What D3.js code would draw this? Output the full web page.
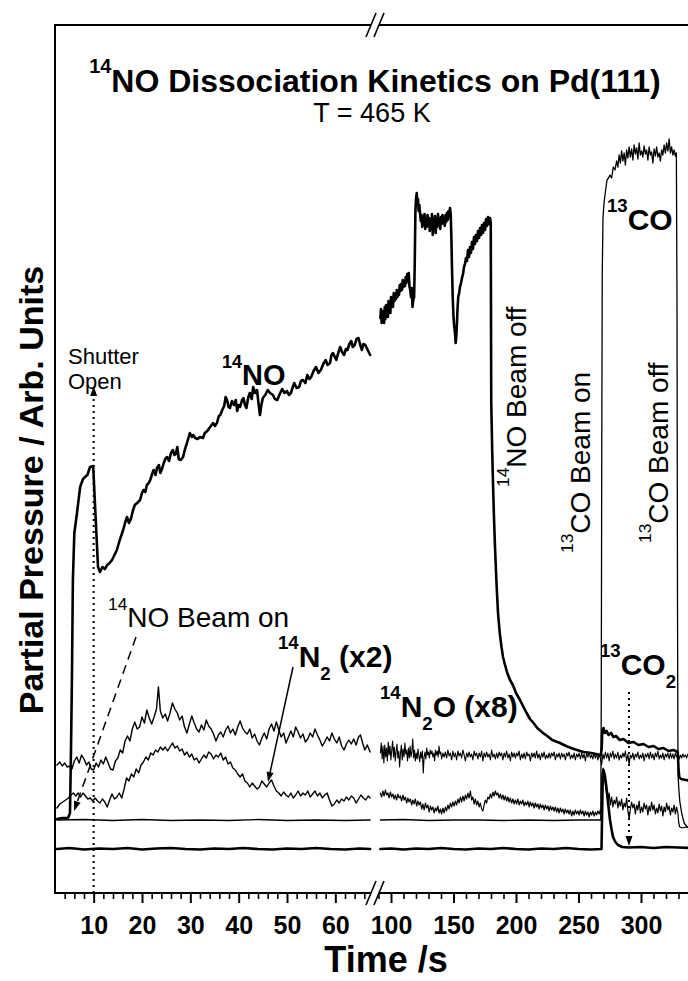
<!DOCTYPE html>
<html><head><meta charset="utf-8">
<script src="https://cdn.jsdelivr.net/npm/d3@7"></script>
<style>body{margin:0;background:#fff}svg{display:block}text{font-family:"Liberation Sans",Arial,sans-serif;fill:#000}</style>
</head><body><svg id="c" width="688" height="981"></svg>
<script>
// ---------- DATA (time in s, partial pressure in arb. units) ----------
const ticksLeftMajor = [10,20,30,40,50,60];
const ticksRightMajor = [100,150,200,250,300];
const tickLabelsLeft = ["10","20","30","40","50","60"];
const tickLabelsRight = ["100","150","200","250","300"];

const no14Left = [[2.4,8.4],[3.5,8.5],[4.7,8.5],[5.1,9.0],[5.3,15.0],[5.5,22.3],[5.7,32.3],[6.0,37.0],[6.55,39.0],[7.2,41.6],[7.8,42.4],[8.2,42.6],[8.7,42.8],[9.25,43.6],[9.9,43.7],[10.3,39.6],[10.9,33.6],[11.3,33.1],[11.8,33.6],[12.3,33.4],[12.8,33.8],[13.3,34.0],[13.8,34.3],[14.3,34.8],[14.8,35.3],[15.4,36.3],[16.1,37.3],[16.6,38.2],[16.9,38.6],[17.3,38.0],[17.7,38.4],[18.1,39.2],[18.5,39.8],[19.0,40.0],[19.6,40.3],[20.0,41.0],[20.3,41.3],[20.7,41.1],[21.0,41.8],[21.4,42.0],[21.7,42.3],[22.1,42.9],[22.4,43.3],[22.8,42.8],[23.1,43.5],[23.5,43.8],[23.8,43.0],[24.2,43.5],[24.5,44.0],[24.9,44.5],[25.2,44.6],[25.6,44.2],[26.0,45.0],[26.4,45.3],[26.7,44.8],[27.0,44.9],[27.3,45.6],[27.6,44.4],[28.0,44.3],[28.5,44.6],[28.9,45.4],[29.3,46.0],[29.6,46.5],[29.9,47.0],[30.3,46.6],[30.6,46.8],[31.0,46.5],[31.5,46.4],[32.0,46.6],[32.6,46.5],[33.0,47.0],[33.5,47.2],[34.1,47.6],[34.7,48.0],[35.1,47.7],[35.5,48.0],[35.9,48.7],[36.2,48.8],[36.6,49.3],[37.0,49.7],[37.3,50.6],[37.6,50.3],[37.9,49.6],[38.2,49.5],[38.6,50.2],[39.0,49.8],[39.4,50.3],[39.7,49.2],[40.0,49.8],[40.3,49.6],[40.7,50.3],[41.0,50.5],[41.3,49.8],[41.6,49.5],[42.0,50.6],[42.3,51.0],[42.7,50.4],[43.0,51.6],[43.4,51.0],[43.8,51.3],[44.1,50.0],[44.4,48.8],[44.7,49.8],[45.0,50.5],[45.5,50.8],[46.0,51.3],[46.5,51.0],[47.1,50.8],[47.5,50.4],[48.0,50.3],[48.5,50.9],[49.0,51.4],[49.5,51.0],[50.0,51.2],[50.4,50.8],[50.8,51.0],[51.2,51.6],[51.5,52.0],[52.0,51.5],[52.5,51.6],[52.9,52.2],[53.3,52.3],[53.8,52.0],[54.2,52.8],[54.6,52.4],[55.0,52.6],[55.5,53.2],[56.0,53.6],[56.5,53.0],[57.0,53.3],[57.5,53.9],[58.0,54.3],[58.4,53.8],[58.9,54.0],[59.2,54.8],[59.5,55.0],[59.9,54.6],[60.2,54.3],[60.6,55.0],[61.0,55.6],[61.4,55.1],[61.8,54.8],[62.2,55.4],[62.5,55.3],[62.9,55.9],[63.3,56.2],[63.6,55.6],[64.0,55.8],[64.4,56.4],[64.8,56.5],[65.1,55.9],[65.5,55.3],[65.8,55.9],[66.2,55.8],[66.6,55.4],[67.2,54.8]];

const no14Right = [[91.5,58.5],[92.0,59.4],[92.5,58.0],[93.0,59.2],[93.5,58.2],[94.0,59.0],[94.5,58.0],[95.0,59.6],[95.5,58.4],[96.0,59.8],[96.5,58.8],[97.0,59.4],[97.5,58.6],[98.0,60.2],[98.5,59.2],[99.0,59.8],[99.5,59.0],[100.0,60.6],[100.5,59.8],[101.0,60.3],[101.6,59.6],[102.2,61.0],[102.8,60.2],[103.4,60.8],[104.0,60.4],[104.6,61.3],[105.2,60.6],[105.8,61.2],[106.4,60.8],[107.0,61.8],[107.6,61.2],[108.2,61.9],[108.8,61.3],[109.4,62.3],[110.0,61.6],[110.6,62.0],[111.2,61.7],[111.8,62.6],[112.4,62.0],[113.0,62.9],[113.6,62.3],[114.2,63.0],[114.8,61.6],[115.4,61.3],[116.0,60.6],[116.6,61.5],[117.2,59.6],[117.8,60.3],[118.5,60.6],[119.0,64.0],[119.5,69.0],[120.0,70.4],[120.6,71.0],[121.1,70.0],[121.6,70.4],[122.1,69.2],[122.7,69.8],[123.2,69.0],[123.8,68.2],[124.4,68.8],[125.0,67.6],[125.6,68.6],[126.2,67.8],[126.8,68.9],[127.4,67.4],[128.0,68.3],[128.6,67.6],[129.2,68.8],[129.8,67.9],[130.4,68.5],[131.0,67.2],[131.6,68.4],[132.2,67.5],[132.8,68.9],[133.4,66.8],[134.0,68.1],[134.6,67.4],[135.2,68.7],[135.8,67.0],[136.4,68.2],[137.0,67.6],[137.6,68.9],[138.2,67.8],[138.8,68.4],[139.4,67.4],[140.0,68.6],[140.6,67.9],[141.2,68.8],[141.8,68.0],[142.4,68.5],[143.0,67.7],[143.6,68.8],[144.2,68.1],[144.8,69.0],[145.4,68.3],[146.0,69.2],[146.6,68.6],[147.2,69.5],[147.8,68.8],[148.3,66.5],[148.8,63.5],[149.4,60.5],[150.0,58.6],[150.6,57.6],[151.2,57.0],[151.7,56.0],[152.2,56.6],[152.7,57.8],[153.2,59.4],[153.8,60.6],[154.5,61.0],[155.2,61.6],[156.0,62.0],[156.8,62.5],[157.6,62.9],[158.4,63.6],[159.2,63.9],[160.0,64.5],[160.8,64.2],[161.6,65.3],[162.4,64.6],[163.2,65.6],[164.0,65.0],[164.8,66.1],[165.6,65.4],[166.4,66.6],[167.2,65.9],[168.0,66.8],[168.8,66.2],[169.6,67.2],[170.4,66.5],[171.2,67.5],[172.0,66.8],[172.8,67.8],[173.6,67.0],[174.4,68.0],[175.2,67.3],[176.0,68.4],[176.8,67.7],[177.6,68.6],[178.4,67.9],[179.2,68.5],[179.8,68.0],[180.2,50.0],[181.0,45.0],[181.6,42.0],[182.4,38.5],[183.2,35.6],[184.4,32.0],[185.6,29.0],[187.0,27.0],[188.4,25.6],[189.6,24.6],[191.0,23.9],[193.0,23.0],[195.2,22.3],[197.5,21.8],[200.0,21.0],[203.2,20.3],[206.0,19.6],[208.5,19.0],[211.2,18.4],[214.0,18.0],[217.0,17.5],[221.6,17.0],[225.0,16.7],[229.0,16.3],[235.2,16.0],[240.0,15.7],[244.0,15.5],[248.8,15.3],[254.0,15.1],[260.0,15.0],[264.0,14.9],[267.8,14.8],[268.6,15.5],[269.0,17.2],[270.0,17.5],[271.0,17.0],[272.5,17.2],[274.0,16.8],[276.0,17.0],[278.0,16.6],[280.0,16.7],[283.0,16.3],[286.0,16.4],[290.0,16.0],[294.0,16.1],[298.0,15.8],[302.0,15.9],[306.0,15.6],[310.0,15.7],[314.0,15.4],[318.0,15.5],[322.0,15.2],[326.0,15.3],[329.4,15.1],[330.0,13.5],[330.6,12.6],[332.0,12.4],[336.0,12.3],[340.0,12.2],[350.0,12.2]];

const co13Left = [[2.4,8.3],[8,8.35],[14,8.25],[20,8.35],[26,8.25],[32,8.3],[38,8.25],[44,8.35],[50,8.25],[56,8.3],[62,8.25],[67.2,8.3]];
const co13Right = [[91.5,8.3],[110,8.35],[130,8.25],[150,8.3],[170,8.3],[190,8.25],[210,8.3],[230,8.25],[250,8.3],[267.8,8.3],[268.2,20],[268.6,45],[269.0,63],[269.6,68.5],[270.4,70.0],[271.6,71.2],[272.8,72.3],[274.0,72.5],[275.2,72.8],[276.5,72.5],[277.8,73.6],[279.2,73.3],[280.5,74.2],[281.5,73.6],[282.5,74.8],[283.5,74.0],[284.5,75.2],[285.5,74.2],[286.5,75.0],[287.5,73.8],[288.5,75.3],[289.5,74.5],[290.5,75.6],[291.5,74.6],[292.5,75.4],[293.5,74.3],[294.5,75.8],[295.5,74.9],[296.5,75.5],[297.5,74.4],[298.5,76.0],[299.5,74.8],[300.5,75.2],[301.5,74.6],[302.5,75.7],[303.5,74.9],[304.5,75.3],[305.5,74.3],[306.5,75.6],[307.5,74.8],[308.5,75.1],[309.5,74.0],[310.5,75.4],[311.5,74.7],[312.5,75.6],[313.5,74.6],[314.5,75.0],[315.5,74.2],[316.5,75.3],[317.5,74.8],[318.5,75.8],[319.5,75.0],[320.5,76.0],[321.5,75.2],[322.5,76.4],[323.5,75.0],[324.5,75.6],[325.5,74.8],[326.5,75.3],[327.5,74.7],[328.3,75.0],[328.8,60],[329.2,30],[329.6,13.0],[330.2,11.5],[331.0,10.2],[332.5,9.0],[334.5,8.0],[337.0,7.6],[341.0,7.5],[350.0,7.5]];

const co2Left = [[2.4,5.4],[5,5.5],[8,5.35],[11,5.45],[14,5.4],[17,5.5],[20,5.35],[23,5.45],[26,5.5],[29,5.4],[32,5.35],[35,5.45],[38,5.4],[41,5.5],[44,5.4],[47,5.35],[50,5.45],[53,5.4],[56,5.5],[59,5.4],[62,5.35],[65,5.45],[67.2,5.4]];
const co2Right = [[91.5,5.4],[100,5.45],[110,5.35],[120,5.45],[130,5.4],[140,5.5],[150,5.4],[160,5.35],[170,5.45],[180,5.4],[190,5.5],[200,5.4],[210,5.35],[220,5.45],[230,5.4],[240,5.5],[250,5.4],[260,5.35],[268.4,5.4],[268.9,9.0],[269.4,12.8],[270.0,13.3],[271.0,12.8],[272.0,11.9],[273.2,10.6],[274.2,9.4],[275.2,8.3],[276.4,7.4],[277.6,6.6],[279.5,6.1],[281.6,5.8],[285,5.6],[290,5.55],[300,5.6],[310,5.5],[320,5.6],[330,5.55],[340,5.5],[350,5.5]];

const n2oLeft = [[2.4,13.8],[3.0,14.1],[3.5,13.7],[4.0,14.0],[4.5,13.6],[5.0,13.7],[5.5,13.4],[6.0,14.2],[6.5,14.6],[7.0,14.0],[7.5,14.8],[8.0,14.4],[8.5,13.8],[9.0,14.1],[9.5,13.4],[10.0,13.3],[10.5,14.0],[11.0,13.6],[11.5,14.3],[12.0,13.9],[12.5,14.6],[13.0,14.0],[13.5,13.4],[14.0,13.3],[14.5,14.2],[15.0,14.5],[15.5,15.3],[16.0,15.0],[16.5,16.2],[17.0,16.7],[17.5,16.2],[18.0,17.4],[18.5,18.1],[19.0,17.4],[19.5,17.6],[20.0,18.6],[20.5,18.0],[21.0,19.3],[21.5,18.5],[22.0,17.9],[22.5,18.6],[23.0,19.4],[23.4,21.6],[23.8,19.2],[24.3,18.5],[24.8,18.9],[25.3,18.2],[25.8,19.0],[26.3,20.0],[26.8,19.4],[27.3,19.0],[27.8,18.3],[28.3,18.7],[28.8,17.6],[29.3,17.0],[29.8,17.9],[30.3,18.7],[30.8,18.0],[31.3,17.4],[31.8,17.1],[32.3,17.8],[32.8,17.3],[33.3,18.3],[33.8,17.7],[34.3,17.4],[34.8,16.9],[35.3,16.2],[35.8,16.8],[36.3,17.1],[36.8,16.6],[37.3,17.3],[37.8,17.7],[38.3,17.0],[38.8,17.4],[39.3,16.8],[39.8,17.6],[40.3,18.2],[40.8,17.5],[41.3,17.1],[41.8,16.9],[42.3,17.4],[42.8,16.5],[43.3,16.9],[43.8,16.2],[44.3,15.8],[44.8,16.5],[45.3,17.0],[45.8,16.4],[46.3,17.4],[46.8,17.9],[47.3,17.2],[47.8,18.1],[48.3,17.3],[48.8,16.6],[49.3,17.0],[49.8,16.0],[50.3,16.6],[50.8,17.2],[51.3,16.6],[51.8,17.6],[52.3,17.1],[52.8,16.5],[53.3,16.9],[53.8,16.1],[54.3,16.4],[54.8,17.0],[55.3,16.6],[55.8,17.4],[56.3,16.8],[56.8,16.3],[57.3,15.7],[57.8,16.1],[58.3,16.6],[58.8,16.2],[59.3,17.0],[59.8,16.4],[60.3,16.0],[60.8,16.6],[61.3,15.7],[61.8,15.3],[62.3,15.9],[62.8,16.3],[63.3,15.9],[63.8,16.4],[64.3,15.8],[64.8,16.6],[65.2,16.8],[65.7,15.9],[66.1,15.3],[66.6,15.8],[67.2,15.1]];

const n2oRight = [[91.5,15.0],[92.2,16.0],[92.9,14.4],[93.6,15.7],[94.3,14.0],[95.0,15.8],[95.7,14.6],[96.4,15.5],[97.1,14.2],[97.8,16.1],[98.5,14.8],[99.2,15.7],[99.9,14.3],[100.6,15.3],[101.3,16.2],[102.0,14.6],[102.7,15.6],[103.4,14.2],[104.1,15.1],[104.8,15.9],[105.5,14.5],[106.2,15.2],[106.9,13.6],[107.6,15.0],[108.3,15.8],[109.0,14.3],[109.7,15.4],[110.4,14.6],[111.1,16.0],[111.8,14.9],[112.5,15.3],[113.2,14.2],[113.9,15.5],[114.6,14.5],[115.3,15.7],[116.0,14.6],[116.7,15.1],[117.4,16.4],[118.1,14.5],[118.8,15.3],[119.5,14.2],[120.2,15.0],[120.9,14.4],[121.6,15.4],[122.3,14.7],[123.0,14.1],[123.7,15.1],[124.4,14.5],[125.1,15.2],[125.8,13.0],[126.5,14.6],[127.2,15.1],[127.9,14.4],[128.6,15.5],[129.3,14.8],[130.0,15.1],[130.7,14.5],[131.4,15.3],[132.1,14.9],[132.8,15.2],[133.5,14.6],[134.2,15.0],[134.9,14.2],[135.6,15.3],[136.3,14.8],[137.0,15.2],[137.7,14.6],[138.4,15.7],[139.1,14.9],[139.8,15.1],[140.5,14.4],[141.5,15.0],[142.5,14.6],[143.5,15.1],[144.5,14.5],[145.5,15.3],[146.5,14.7],[147.5,15.0],[148.5,14.3],[149.5,15.2],[150.5,14.6],[151.5,15.0],[152.5,14.3],[153.5,15.2],[154.5,14.7],[155.5,15.0],[156.5,14.5],[157.5,15.3],[158.5,14.8],[159.5,14.2],[160.5,15.0],[161.5,14.6],[162.5,15.1],[163.5,14.6],[164.5,14.9],[165.5,14.3],[166.5,15.2],[167.5,14.7],[168.5,15.0],[169.5,14.4],[170.5,15.0],[171.5,14.6],[172.5,15.2],[173.5,14.2],[174.5,15.0],[175.5,14.6],[176.5,15.1],[177.5,14.6],[178.5,14.9],[179.5,14.3],[180.5,15.3],[181.5,14.6],[182.5,14.9],[183.5,14.4],[184.5,15.0],[185.5,14.5],[186.5,15.1],[187.5,14.7],[188.5,15.0],[189.5,14.3],[190.5,15.0],[191.5,14.6],[192.5,15.2],[193.5,14.5],[194.5,14.9],[195.5,14.2],[196.5,15.1],[197.5,14.6],[198.5,15.0],[199.5,14.5],[200.5,15.0],[201.5,14.7],[202.5,15.2],[203.5,14.3],[204.5,14.9],[205.5,14.5],[206.5,15.0],[207.5,14.4],[208.5,15.1],[209.5,14.7],[210.5,14.9],[211.5,14.2],[212.5,15.0],[213.5,14.6],[214.5,15.0],[215.5,14.5],[216.5,15.2],[217.5,14.5],[218.5,14.9],[219.5,14.3],[220.5,15.0],[221.5,14.6],[222.5,15.1],[223.5,14.4],[224.5,14.8],[225.5,14.5],[226.5,15.0],[227.5,14.5],[228.5,15.0],[229.5,14.7],[230.5,15.1],[231.5,14.3],[232.5,14.9],[233.5,14.6],[234.5,15.0],[235.5,14.4],[236.5,15.0],[237.5,14.6],[238.5,14.9],[239.5,14.3],[240.5,15.0],[241.5,14.7],[242.5,15.1],[243.5,14.4],[244.5,14.8],[245.5,14.5],[246.5,15.0],[247.5,14.3],[248.5,14.9],[249.5,14.6],[250.5,15.0],[251.5,14.4],[252.5,15.0],[253.5,14.5],[254.5,14.9],[255.5,14.2],[256.5,15.0],[257.5,14.6],[258.5,15.1],[259.5,14.5],[260.5,14.8],[261.5,14.4],[262.5,15.0],[263.5,14.5],[264.5,14.9],[265.5,14.3],[266.5,14.8],[267.5,14.5],[268.5,13.8],[269.5,14.9],[270.5,14.4],[271.5,15.1],[272.5,14.5],[273.5,15.0],[274.5,14.2],[275.5,15.0],[276.5,14.6],[277.5,15.2],[278.5,14.4],[279.5,14.9],[280.5,14.5],[281.5,15.1],[282.5,14.3],[283.5,14.8],[284.5,14.5],[285.5,15.0],[286.5,14.6],[287.5,15.2],[288.5,14.2],[289.5,14.9],[290.5,13.8],[291.5,14.8],[292.5,14.5],[293.5,15.0],[294.5,14.3],[295.5,14.9],[296.5,14.6],[297.5,15.1],[298.5,14.4],[299.5,14.8],[300.5,14.5],[301.5,15.0],[302.5,14.2],[303.5,14.9],[304.5,14.6],[305.5,15.0],[306.5,14.4],[307.5,15.1],[308.5,14.5],[309.5,14.9],[310.5,14.3],[311.5,15.0],[312.5,14.6],[313.5,15.2],[314.5,14.4],[315.5,14.8],[316.5,14.5],[317.5,15.0],[318.5,14.3],[319.5,14.9],[320.5,14.6],[321.5,15.0],[322.5,14.4],[323.5,15.0],[324.5,14.5],[325.5,14.9],[326.5,14.4],[327.5,15.0],[328.5,14.6],[329.5,14.9],[330.5,14.4],[331.5,14.8],[332.5,14.5],[333.5,14.9],[334.5,14.6],[335.5,14.8],[336.5,14.5],[337.5,14.9],[338.5,14.6],[340,14.8],[342,14.6],[345,14.8],[350,14.7]];

const n2Left = [[2.4,9.5],[3.0,9.9],[3.6,10.1],[4.2,10.3],[4.8,10.5],[5.3,10.8],[5.8,11.0],[6.3,10.7],[6.8,11.0],[7.3,10.6],[7.8,11.0],[8.3,10.7],[8.8,10.4],[9.3,10.5],[9.8,10.2],[10.3,10.5],[10.8,10.2],[11.3,10.0],[11.8,10.4],[12.3,10.1],[12.8,9.6],[13.3,10.3],[13.8,10.9],[14.3,10.4],[14.8,10.6],[15.3,11.0],[15.8,10.5],[16.3,11.4],[16.8,12.5],[17.3,12.2],[17.8,12.9],[18.3,12.6],[18.8,13.4],[19.3,13.0],[19.8,13.8],[20.3,14.1],[20.8,14.6],[21.3,14.3],[21.8,15.0],[22.3,14.8],[22.8,15.3],[23.3,15.1],[23.8,15.6],[24.3,15.3],[24.8,15.6],[25.3,15.2],[25.8,15.6],[26.3,16.0],[26.8,15.5],[27.3,15.7],[27.8,15.2],[28.3,15.4],[28.8,14.8],[29.3,15.1],[29.8,14.6],[30.3,14.9],[30.8,14.3],[31.3,14.5],[31.8,14.0],[32.3,14.4],[32.8,14.8],[33.3,14.5],[33.8,15.1],[34.3,14.9],[34.8,14.4],[35.3,14.8],[35.8,14.6],[36.3,15.0],[36.8,14.3],[37.3,14.6],[37.8,13.9],[38.3,14.1],[38.8,13.5],[39.3,13.3],[39.8,12.9],[40.3,12.6],[40.8,12.9],[41.3,12.2],[41.8,12.0],[42.3,11.6],[42.8,12.0],[43.3,11.7],[43.8,11.4],[44.3,11.6],[44.8,12.2],[45.3,11.9],[45.8,11.6],[46.3,12.0],[46.8,12.3],[47.3,11.7],[47.8,11.2],[48.3,11.0],[48.8,10.7],[49.3,11.1],[49.8,10.8],[50.3,10.6],[50.8,11.0],[51.3,10.5],[51.8,10.8],[52.3,11.2],[52.8,10.7],[53.3,11.0],[53.8,10.8],[54.3,11.2],[54.8,10.6],[55.3,10.9],[55.8,11.2],[56.3,10.7],[56.8,11.0],[57.3,10.5],[57.8,10.8],[58.3,11.0],[58.8,10.3],[59.3,9.7],[59.8,9.9],[60.3,10.3],[60.8,10.0],[61.3,10.4],[61.8,10.2],[62.3,10.6],[62.8,10.3],[63.3,10.7],[63.8,10.5],[64.3,10.0],[64.8,10.4],[65.3,10.8],[65.8,10.5],[66.3,10.3],[66.8,10.7],[67.2,10.5]];

const n2Right = [[91.5,11.0],[92.5,10.6],[93.5,11.2],[94.5,10.7],[95.5,11.3],[96.5,10.8],[97.5,11.0],[98.5,10.5],[99.5,11.1],[100.5,10.6],[101.5,10.9],[102.5,10.4],[103.5,10.8],[104.5,10.3],[105.5,10.9],[106.5,10.5],[107.5,10.7],[108.5,10.2],[109.5,10.8],[110.5,10.3],[111.5,10.6],[112.5,10.0],[113.5,10.5],[114.5,10.1],[115.5,10.4],[116.5,9.8],[117.5,10.3],[118.5,9.9],[119.5,10.4],[120.5,9.7],[121.5,10.2],[122.5,9.8],[123.5,10.1],[124.5,9.4],[125.5,9.9],[126.5,9.3],[127.5,10.0],[128.5,9.5],[129.5,9.8],[130.5,9.1],[131.5,9.7],[132.5,9.3],[133.5,9.6],[134.5,9.0],[135.5,9.5],[136.5,9.2],[137.5,9.7],[138.5,9.0],[139.5,9.4],[140.5,8.9],[141.5,9.5],[142.5,9.0],[143.5,9.6],[144.5,9.2],[145.5,9.8],[146.5,9.4],[147.5,10.0],[148.5,9.6],[149.5,10.1],[150.5,9.7],[151.5,10.2],[152.5,9.8],[153.5,10.4],[154.5,10.0],[155.5,10.6],[156.5,10.1],[157.5,10.7],[158.5,10.2],[159.5,10.8],[160.5,10.4],[161.5,11.0],[162.5,10.5],[163.5,11.2],[164.5,10.3],[165.5,10.6],[166.5,9.9],[167.5,10.4],[168.5,9.8],[169.5,10.2],[170.5,9.6],[171.5,10.0],[172.5,9.4],[173.5,9.2],[174.5,9.8],[175.5,10.3],[176.5,10.0],[177.5,10.6],[178.5,10.4],[179.5,10.9],[180.5,10.5],[181.5,11.1],[182.5,10.7],[183.5,11.2],[184.5,10.8],[185.5,11.0],[186.5,10.5],[187.5,10.9],[188.5,10.4],[189.5,10.8],[190.5,10.3],[191.5,10.7],[192.5,10.2],[193.5,10.6],[194.5,10.1],[195.5,10.5],[196.5,10.0],[197.5,10.4],[198.5,9.9],[199.5,10.3],[200.5,9.9],[201.5,10.4],[202.5,9.8],[203.5,10.2],[204.5,9.9],[205.5,10.3],[206.5,9.7],[207.5,10.1],[208.5,9.8],[209.5,10.2],[210.5,9.6],[211.5,10.1],[212.5,9.7],[213.5,10.0],[214.5,9.5],[215.5,10.0],[216.5,9.6],[217.5,9.9],[218.5,9.4],[219.5,9.9],[220.5,9.5],[221.5,9.8],[222.5,9.3],[223.5,9.8],[224.5,9.4],[225.5,9.7],[226.5,9.2],[227.5,9.7],[228.5,9.3],[229.5,9.6],[230.5,9.2],[231.5,9.6],[232.5,9.1],[233.5,9.5],[234.5,9.0],[235.5,9.5],[236.5,9.1],[237.5,9.4],[238.5,8.9],[239.5,9.4],[240.5,9.0],[241.5,9.3],[242.5,8.9],[243.5,9.3],[244.5,8.7],[245.5,9.2],[246.5,8.8],[247.5,9.3],[248.5,8.9],[249.5,9.2],[250.5,8.8],[251.5,9.3],[252.5,8.9],[253.5,9.2],[254.5,8.7],[255.5,9.2],[256.5,8.8],[257.5,9.1],[258.5,8.6],[259.5,9.1],[260.5,8.8],[261.5,9.2],[262.5,8.7],[263.5,9.1],[264.5,8.8],[265.5,9.2],[266.5,8.9],[267.5,9.3],[268.3,9.3],[268.9,12.5],[269.6,13.5],[270.3,13.2],[271.0,12.4],[271.8,11.5],[272.6,10.8],[273.5,10.4],[274.5,11.0],[275.5,9.8],[276.5,10.6],[277.5,9.6],[278.5,10.3],[279.5,9.9],[280.5,10.6],[281.5,9.5],[282.5,10.2],[283.5,9.7],[284.5,10.4],[285.5,9.3],[286.5,10.0],[287.5,9.6],[288.5,10.5],[289.5,9.2],[290.5,8.4],[291.5,9.4],[292.5,10.1],[293.5,9.5],[294.5,9.9],[295.5,8.9],[296.5,9.8],[297.5,9.3],[298.5,10.2],[299.5,9.0],[300.5,9.6],[301.5,9.1],[302.5,10.0],[303.5,9.4],[304.5,9.8],[305.5,8.8],[306.5,9.7],[307.5,9.2],[308.5,10.1],[309.5,9.3],[310.5,9.8],[311.5,8.9],[312.5,9.5],[313.5,9.0],[314.5,9.9],[315.5,9.2],[316.5,9.7],[317.5,8.7],[318.5,9.6],[319.5,9.1],[320.5,10.0],[321.5,9.3],[322.5,9.7],[323.5,8.8],[324.5,9.5],[325.5,9.1],[326.5,9.8],[327.5,8.9],[328.5,9.6],[329.5,9.0],[330.2,8.0],[331,7.6],[333,7.5],[336,7.6],[340,7.5],[345,7.6],[350,7.5]];

// ---------- LAYOUT ----------
const W = 688, H = 981;
const L = 55, T = 25, B = 893, R = 705;
const FONT = '"Liberation Sans", Arial, sans-serif';

const svg = d3.select('#c');
svg.append('rect').attr('width', W).attr('height', H).attr('fill', '#fff');

const xL = d3.scaleLinear().domain([2, 68]).range([L, 374]);
const xR = d3.scaleLinear().domain([88, 350]).range([376, 703.5]);
const y = d3.scaleLinear().domain([1.0, 87.8]).range([B, T]);
const BREAK_X = 375;

function drawLine(data, xs, width) {
  svg.append('path').datum(data)
    .attr('d', d3.line().x(d => xs(d[0])).y(d => y(d[1])))
    .attr('fill', 'none').attr('stroke', '#000')
    .attr('stroke-width', width).attr('stroke-linejoin', 'round').attr('stroke-linecap', 'round');
}

// thin traces
drawLine(co13Left, xL, 1.3); drawLine(co13Right, xR, 1.3);
drawLine(n2Left, xL, 1.4); drawLine(n2Right, xR, 1.2);
drawLine(n2oLeft, xL, 1.4); drawLine(n2oRight, xR, 1.1);
// thick traces
drawLine(co2Left, xL, 2.6); drawLine(co2Right, xR, 2.6);
drawLine(no14Left, xL, 2.6); drawLine(no14Right, xR, 2.6);

// ---------- AXES / FRAME ----------
const frame = svg.append('g').attr('stroke', '#000').attr('stroke-width', 2);
frame.append('line').attr('x1', L).attr('x2', L).attr('y1', T - 1).attr('y2', B + 1);
frame.append('line').attr('x1', L - 1).attr('x2', R).attr('y1', T).attr('y2', T);
frame.append('line').attr('x1', L - 1).attr('x2', R).attr('y1', B).attr('y2', B);

function axisSeg(xs, majors, labels, minors) {
  const gMaj = svg.append('g').attr('transform', `translate(0,${B})`)
    .call(d3.axisBottom(xs).tickValues(majors).tickSize(10).tickPadding(13)
      .tickFormat((d, i) => labels[i]));
  gMaj.select('.domain').remove();
  gMaj.selectAll('line').attr('stroke', '#000').attr('stroke-width', 2);
  gMaj.selectAll('text').attr('font-family', FONT).attr('font-size', 25).attr('font-weight', 'bold').attr('fill', '#000');
  const gMin = svg.append('g').attr('transform', `translate(0,${B})`)
    .call(d3.axisBottom(xs).tickValues(minors).tickSize(6).tickFormat(''));
  gMin.select('.domain').remove();
  gMin.selectAll('line').attr('stroke', '#000').attr('stroke-width', 1.6);
}
axisSeg(xL, ticksLeftMajor, tickLabelsLeft, d3.range(4, 68, 2).filter(v => v % 10 !== 0));
axisSeg(xR, ticksRightMajor, tickLabelsRight, d3.range(90, 350, 10).filter(v => v % 50 !== 0));

// break marks
[T, B].forEach(yy => {
  svg.append('rect').attr('x', BREAK_X - 4).attr('y', yy - 3).attr('width', 8).attr('height', 6).attr('fill', '#fff');
  [-4, 4].forEach(o => {
    svg.append('line').attr('x1', BREAK_X + o - 5).attr('y1', yy + 12).attr('x2', BREAK_X + o + 5).attr('y2', yy - 12)
      .attr('stroke', '#000').attr('stroke-width', 1.6);
  });
});

// ---------- TEXT ----------
function rich(x, yy, parts, size, weight, anchor, rot) {
  const t = svg.append('text').attr('x', x).attr('y', yy)
    .attr('font-family', FONT).attr('font-size', size).attr('font-weight', weight || 'normal')
    .attr('text-anchor', anchor || 'start');
  if (rot) t.attr('transform', `rotate(${rot},${x},${yy})`);
  let cur = 0;
  parts.forEach(p => {
    const target = p.sup ? -0.6 * size : p.sub ? 0.42 * size : 0;
    t.append('tspan').text(p.t).attr('dy', target - cur)
      .attr('font-size', (p.sup || p.sub) ? size * 0.62 : size);
    cur = target;
  });
  return t;
}

rich(375, 92, [{t:'14', sup:true}, {t:'NO Dissociation Kinetics on Pd(111)'}], 32, 'bold', 'middle');
rich(372, 122, [{t:'T = 465 K'}], 27, 'normal', 'middle');

// axis titles
rich(386, 972, [{t:'Time /s'}], 36, 'bold', 'middle');
rich(43, 490, [{t:'Partial Pressure / Arb. Units'}], 34, 'bold', 'middle', -90);

// annotations
rich(68, 364, [{t:'Shutter'}], 22);
rich(68, 389, [{t:'Open'}], 22);
rich(222, 385, [{t:'14', sup:true}, {t:'NO'}], 29, 'bold');
rich(108, 627, [{t:'14', sup:true}, {t:'NO Beam on'}], 28);
rich(278, 667, [{t:'14', sup:true}, {t:'N'}, {t:'2', sub:true}, {t:' (x2)'}], 30, 'bold');
rich(380, 717, [{t:'14', sup:true}, {t:'N'}, {t:'2', sub:true}, {t:'O (x8)'}], 30, 'bold');
rich(600, 675, [{t:'13', sup:true}, {t:'CO'}, {t:'2', sub:true}], 30, 'bold');
rich(607, 230, [{t:'13', sup:true}, {t:'CO'}], 30, 'bold');

rich(526, 487, [{t:'14', sup:true}, {t:'NO Beam off'}], 28, 'normal', 'start', -90);
rich(590, 553, [{t:'13', sup:true}, {t:'CO Beam on'}], 28, 'normal', 'start', -90);
rich(668, 543, [{t:'13', sup:true}, {t:'CO Beam off'}], 28, 'normal', 'start', -90);

// arrows
function arrowHead(x1, y1, x2, y2, len, half) {
  const a = Math.atan2(y2 - y1, x2 - x1);
  const bx = x2 - len * Math.cos(a), by = y2 - len * Math.sin(a);
  const px = -Math.sin(a) * half, py = Math.cos(a) * half;
  svg.append('path').attr('d', `M${x2},${y2}L${bx + px},${by + py}L${bx - px},${by - py}Z`).attr('fill', '#000');
}
function arrow(x1, y1, x2, y2, dash, width) {
  const a = Math.atan2(y2 - y1, x2 - x1);
  svg.append('line').attr('x1', x1).attr('y1', y1)
    .attr('x2', x2 - 8 * Math.cos(a)).attr('y2', y2 - 8 * Math.sin(a))
    .attr('stroke', '#000').attr('stroke-width', width).attr('stroke-dasharray', dash || null);
  arrowHead(x1, y1, x2, y2, 10, 3.5);
}
arrow(xL(10), B, xL(10), 386, '2,4', 2);
arrow(136, 637, 74, 811, '9,6', 1.5);
arrow(293, 667, 268, 782, null, 1.5);
arrow(xR(290.4), 692, xR(290.4), 846, '2,4', 2);
</script></body></html>
